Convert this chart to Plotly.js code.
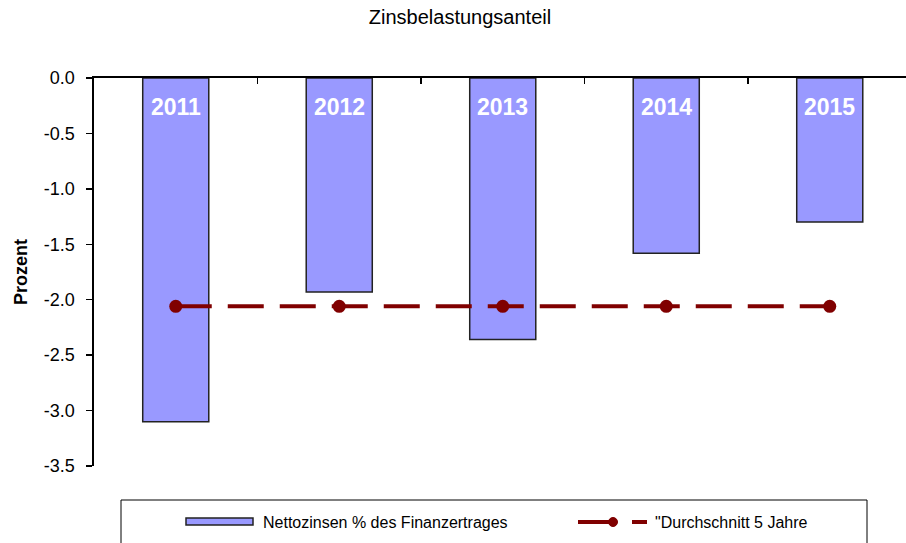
<!DOCTYPE html>
<html>
<head>
<meta charset="utf-8">
<script src="https://cdn.plot.ly/plotly-3.0.1.min.js"></script>
<style>html,body{margin:0;padding:0;background:#fff;}#chart{width:906px;height:543px;}</style>
</head>
<body>
<div id="chart"></div>
<script>
// Data
const years = [2011, 2012, 2013, 2014, 2015];
const yearLabels = ["2011", "2012", "2013", "2014", "2015"];
const nettozinsen = [-3.10, -1.93, -2.36, -1.58, -1.30];
const durchschnitt = [-2.06, -2.06, -2.06, -2.06, -2.06];
const yTicks = [0, -0.5, -1.0, -1.5, -2.0, -2.5, -3.0, -3.5];
const yTickLabels = ["0.0", "-0.5", "-1.0", "-1.5", "-2.0", "-2.5", "-3.0", "-3.5"];
const boundaryTicks = [2010.5, 2011.5, 2012.5, 2013.5, 2014.5];
const seriesNames = ["Nettozinsen % des Finanzertrages", "\"Durchschnitt 5 Jahre"];

const FONT = "Liberation Sans, Arial, sans-serif";
const RED = "#800000";
const BAR = "#9999FF";

const traces = [
  {
    type: "bar",
    x: years,
    y: nettozinsen,
    width: 0.404,
    name: seriesNames[0],
    marker: {color: BAR, line: {color: "#222222", width: 1.5}},
    hoverinfo: "skip"
  },
  {
    type: "scatter",
    mode: "lines+markers",
    x: years,
    y: durchschnitt,
    name: seriesNames[1],
    line: {color: RED, width: 4, dash: "36px,16px"},
    marker: {color: RED, size: 13, symbol: "circle"},
    hoverinfo: "skip"
  }
];

const annotations = years.map((yr, i) => ({
  x: yr, y: 0, xref: "x", yref: "y",
  text: "<b>" + yearLabels[i] + "</b>",
  showarrow: false, yshift: -29, yanchor: "middle",
  font: {family: FONT, size: 23, color: "#ffffff"}
}));

function px(xp) { return (xp - 94) / 812; }
function py(yp) { return (466 - yp) / 388; }

annotations.push({
  xref: "paper", yref: "paper", x: px(261), y: py(522),
  xanchor: "left", yanchor: "middle", showarrow: false,
  text: seriesNames[0], font: {family: FONT, size: 16, color: "#000"}
});
annotations.push({
  xref: "paper", yref: "paper", x: px(653), y: py(522),
  xanchor: "left", yanchor: "middle", showarrow: false,
  text: seriesNames[1], font: {family: FONT, size: 16, color: "#000"}
});

const shapes = [
  // legend box
  {type: "rect", xref: "paper", yref: "paper", x0: px(121), x1: px(867), y0: py(500), y1: py(560),
   line: {color: "#000", width: 1}, fillcolor: "rgba(0,0,0,0)"},
  // bar swatch
  {type: "rect", xref: "paper", yref: "paper", x0: px(186), x1: px(253), y0: py(518), y1: py(525),
   line: {color: "#222", width: 1.5}, fillcolor: BAR},
  // line swatch
  {type: "line", xref: "paper", yref: "paper", x0: px(578), x1: px(616), y0: py(522), y1: py(522),
   line: {color: RED, width: 4}},
  {type: "line", xref: "paper", yref: "paper", x0: px(632), x1: px(647), y0: py(522), y1: py(522),
   line: {color: RED, width: 4}},
  {type: "circle", xref: "paper", yref: "paper", x0: px(608.5), x1: px(617.5), y0: py(517.5), y1: py(526.5),
   line: {color: RED, width: 1}, fillcolor: RED}
];

const layout = {
  width: 906, height: 543,
  margin: {l: 94, r: 0, t: 78, b: 77},
  paper_bgcolor: "#fff", plot_bgcolor: "#fff",
  showlegend: false,
  font: {family: FONT, size: 16, color: "#000"},
  title: {
    text: "Zinsbelastungsanteil",
    font: {family: FONT, size: 20, color: "#000"},
    x: 460 / 906, xanchor: "center", xref: "container",
    y: 1 - 17 / 543, yanchor: "middle", yref: "container"
  },
  xaxis: {
    range: [2010.5, 2010.5 + 812 / 163.5],
    side: "top",
    showgrid: false, zeroline: false,
    showline: true, linecolor: "#000", linewidth: 2.5,
    tickmode: "array", tickvals: boundaryTicks, ticktext: boundaryTicks.map(() => ""),
    ticks: "inside", ticklen: 6, tickwidth: 1.5, tickcolor: "#000",
    showticklabels: false, fixedrange: true
  },
  yaxis: {
    range: [-3.5, 0],
    showgrid: false, zeroline: false,
    showline: true, linecolor: "#000", linewidth: 2.5,
    tickmode: "array", tickvals: yTicks, ticktext: yTickLabels,
    ticks: "outside", ticklen: 6, tickwidth: 1.5, tickcolor: "#000",
    ticklabelstandoff: 7,
    tickfont: {family: FONT, size: 18, color: "#000"},
    title: {text: "<b>Prozent</b>", font: {family: FONT, size: 18, color: "#000"}, standoff: 12},
    automargin: false, fixedrange: true
  },
  annotations: annotations,
  shapes: shapes
};

Plotly.newPlot("chart", traces, layout, {displayModeBar: false, staticPlot: true});
</script>
</body>
</html>
